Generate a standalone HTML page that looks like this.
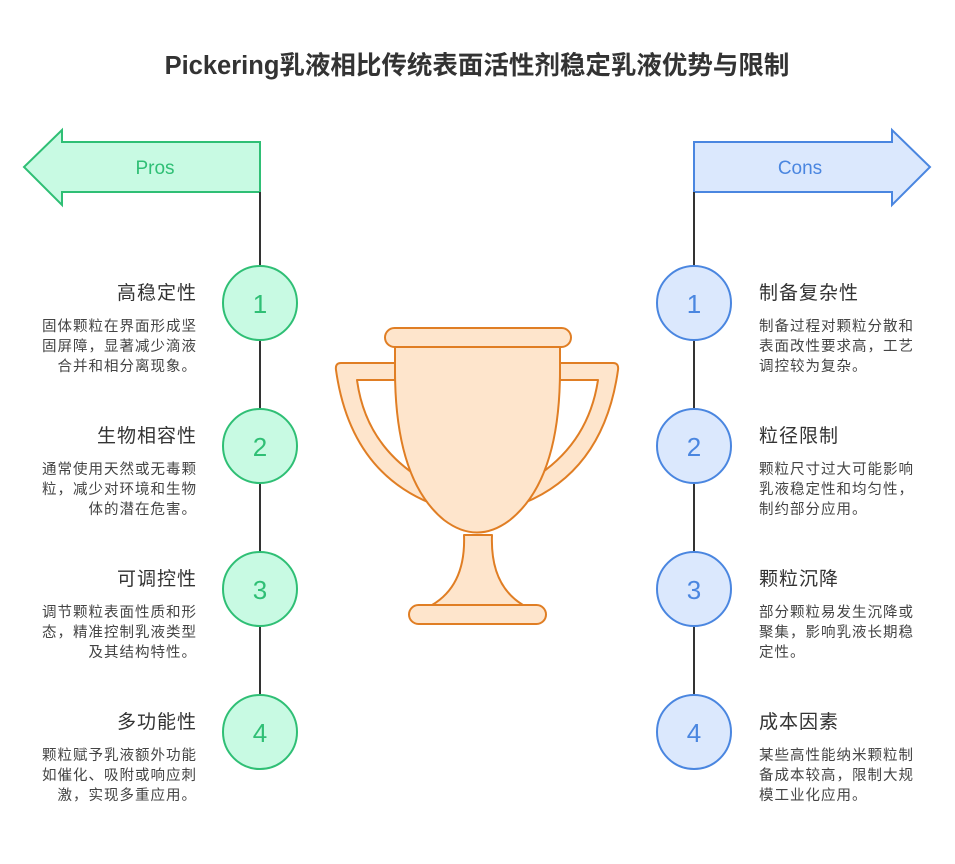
<!DOCTYPE html>
<html><head><meta charset="utf-8"><style>
html,body{margin:0;padding:0;background:#fff;}
svg{display:block;font-family:"Liberation Sans","Noto Sans CJK SC",sans-serif;}
.t{font-size:19px;fill:#333;letter-spacing:1px}
.d{font-size:14.5px;fill:#444;letter-spacing:1px}
.n{font-size:26px;text-anchor:middle}
</style></head><body>
<svg width="955" height="864" viewBox="0 0 955 864">
<text x="477" y="74" text-anchor="middle" style="font-size:25.5px;font-weight:bold;fill:#333">Pickering乳液相比传统表面活性剂稳定乳液优势与限制</text>

<path d="M260,142 L62,142 L62,130 L24,167 L62,205 L62,192 L260,192 Z" fill="#c8fae3" stroke="#2fbf75" stroke-width="2"/>
<text x="155" y="174" text-anchor="middle" style="font-size:19px;fill:#2fbf75">Pros</text>
<path d="M694,142 L892,142 L892,130 L930,167 L892,205 L892,192 L694,192 Z" fill="#dbe8fd" stroke="#4a86e0" stroke-width="2"/>
<text x="800" y="174" text-anchor="middle" style="font-size:19px;fill:#4a86e0">Cons</text>

<line x1="260" y1="192" x2="260" y2="694" stroke="#333" stroke-width="2"/>
<line x1="694" y1="192" x2="694" y2="694" stroke="#333" stroke-width="2"/>

<g fill="#c8fae3" stroke="#2fbf75" stroke-width="2">
<circle cx="260" cy="303" r="37"/><circle cx="260" cy="446" r="37"/><circle cx="260" cy="589" r="37"/><circle cx="260" cy="732" r="37"/>
</g>
<g fill="#dbe8fd" stroke="#4a86e0" stroke-width="2">
<circle cx="694" cy="303" r="37"/><circle cx="694" cy="446" r="37"/><circle cx="694" cy="589" r="37"/><circle cx="694" cy="732" r="37"/>
</g>
<g fill="#2fbf75">
<text x="260" y="313" class="n">1</text><text x="260" y="456" class="n">2</text><text x="260" y="599" class="n">3</text><text x="260" y="742" class="n">4</text>
</g>
<g fill="#4a86e0">
<text x="694" y="313" class="n">1</text><text x="694" y="456" class="n">2</text><text x="694" y="599" class="n">3</text><text x="694" y="742" class="n">4</text>
</g>

<g text-anchor="end">
<text x="197" y="299" class="t">高稳定性</text>
<text x="197" y="331" class="d">固体颗粒在界面形成坚</text>
<text x="197" y="351" class="d">固屏障，显著减少滴液</text>
<text x="197" y="371" class="d">合并和相分离现象。</text>

<text x="197" y="442" class="t">生物相容性</text>
<text x="197" y="474" class="d">通常使用天然或无毒颗</text>
<text x="197" y="494" class="d">粒，减少对环境和生物</text>
<text x="197" y="514" class="d">体的潜在危害。</text>

<text x="197" y="585" class="t">可调控性</text>
<text x="197" y="617" class="d">调节颗粒表面性质和形</text>
<text x="197" y="637" class="d">态，精准控制乳液类型</text>
<text x="197" y="657" class="d">及其结构特性。</text>

<text x="197" y="728" class="t">多功能性</text>
<text x="197" y="760" class="d">颗粒赋予乳液额外功能</text>
<text x="197" y="780" class="d">如催化、吸附或响应刺</text>
<text x="197" y="800" class="d">激，实现多重应用。</text>
</g>
<g>
<text x="759" y="299" class="t">制备复杂性</text>
<text x="759" y="331" class="d">制备过程对颗粒分散和</text>
<text x="759" y="351" class="d">表面改性要求高，工艺</text>
<text x="759" y="371" class="d">调控较为复杂。</text>

<text x="759" y="442" class="t">粒径限制</text>
<text x="759" y="474" class="d">颗粒尺寸过大可能影响</text>
<text x="759" y="494" class="d">乳液稳定性和均匀性，</text>
<text x="759" y="514" class="d">制约部分应用。</text>

<text x="759" y="585" class="t">颗粒沉降</text>
<text x="759" y="617" class="d">部分颗粒易发生沉降或</text>
<text x="759" y="637" class="d">聚集，影响乳液长期稳</text>
<text x="759" y="657" class="d">定性。</text>

<text x="759" y="728" class="t">成本因素</text>
<text x="759" y="760" class="d">某些高性能纳米颗粒制</text>
<text x="759" y="780" class="d">备成本较高，限制大规</text>
<text x="759" y="800" class="d">模工业化应用。</text>
</g>

<g fill="#fee5cc" stroke="#e07e24" stroke-width="2" stroke-linejoin="round">
<path d="M395,363 L341,363 Q335,363 336,370 Q350,470 430,503 L414,474 Q365,440 357,380 L395,380 Z"/>
<path d="M560,363 L613,363 Q619,363 618,370 Q604,470 524,503 L540,474 Q589,440 598,380 L560,380 Z"/>
<path d="M464,535 Q466,585 432,605 L523,605 Q490,585 492,535 Z"/>
<rect x="409" y="605" width="137" height="19" rx="9.5"/>
<path d="M395,346 L560,346 L560,370 Q560,480 510,520 Q477,545 444,520 Q395,480 395,370 Z"/>
<rect x="385" y="328" width="186" height="19" rx="9.5"/>
</g>
</svg>
</body></html>
